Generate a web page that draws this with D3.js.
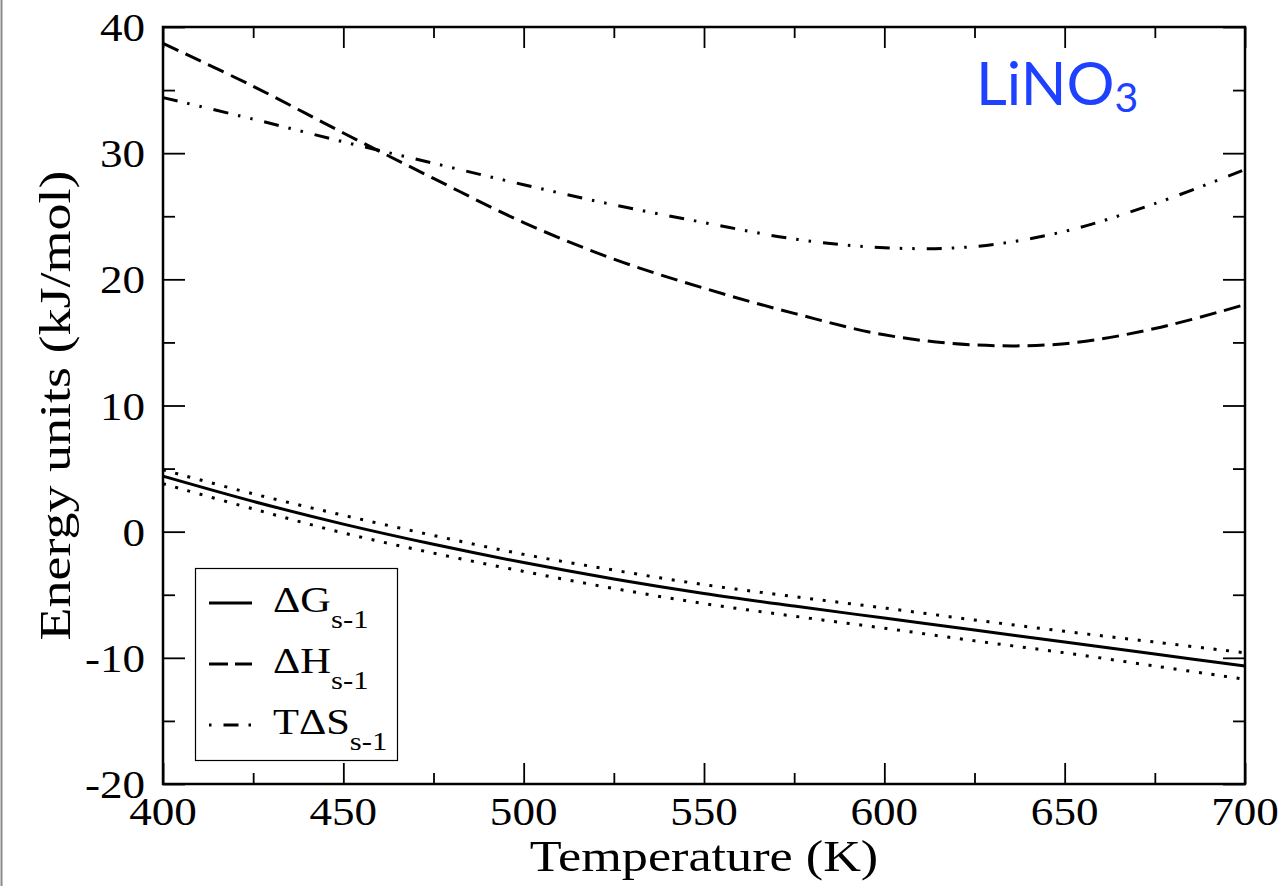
<!DOCTYPE html>
<meta charset="utf-8">
<html>
<head>
<!-- Load d3.js -->
<script src="https://d3js.org/d3.v7.min.js"></script>
<style>
  body { margin: 0; background: #fff; }
</style>
</head>
<body>

<div id="my_dataviz"></div>

<script>

// temperatures (K) and energies (kJ/mol)
var temps = [400, 425, 450, 475, 500, 525, 550, 575, 600, 625, 650, 675, 700];
var dG    = [4.4, 2.4, 0.6, -1.0, -2.45, -3.75, -4.9, -5.9, -6.85, -7.8, -8.75, -9.7, -10.65];
var dGup  = [4.9, 3.0, 1.3, -0.3, -1.8, -3.05, -4.2, -5.15, -6.05, -7.0, -7.9, -8.75, -9.6];
var dGlo  = [3.8, 1.8, -0.1, -1.7, -3.15, -4.5, -5.7, -6.7, -7.65, -8.65, -9.6, -10.65, -11.7];
var dH    = [38.7, 35.3, 31.6, 28.0, 24.5, 21.6, 19.3, 17.3, 15.6, 14.8, 14.9, 16.1, 18.0];
var TdS   = [34.4, 32.7, 30.9, 29.2, 27.5, 25.9, 24.5, 23.2, 22.5, 22.6, 23.8, 26.0, 28.7];

var xTicks = [400, 450, 500, 550, 600, 650, 700];
var xMinor = [425, 475, 525, 575, 625, 675];
var yTicks = [-20, -10, 0, 10, 20, 30, 40];
var yMinor = [-15, -5, 5, 15, 25, 35];

var legendNames = ["\u0394G", "\u0394H", "T\u0394S"];
var legendSub = "s-1";

var W = 1283, H = 886;
var margin = {top: 27, right: 38, bottom: 102, left: 163};

var serif = "'Liberation Serif', 'Times New Roman', serif";

var svg = d3.select("#my_dataviz")
  .append("svg")
    .attr("width", W)
    .attr("height", H);

svg.append("rect").attr("width", W).attr("height", H).attr("fill", "#fff");

// grey edge on the far left of the picture
svg.append("line")
  .attr("x1", 1.5).attr("x2", 1.5).attr("y1", 0).attr("y2", H)
  .attr("stroke", "#8a8a8a").attr("stroke-width", 2);

var x = d3.scaleLinear().domain([400, 700]).range([margin.left, W - margin.right]);
var y = d3.scaleLinear().domain([-20, 40]).range([H - margin.bottom, margin.top]);

var x0 = x.range()[0], x1 = x.range()[1], y0 = y.range()[0], y1 = y.range()[1];

// ticks on all four sides, pointing inward
function ticks(axisFn, vals, size, tx, ty) {
  svg.append("g")
    .attr("transform", "translate(" + tx + "," + ty + ")")
    .call(axisFn.tickValues(vals).tickSizeInner(size).tickSizeOuter(0).tickFormat(""))
    .call(function(g) { g.select(".domain").remove(); })
    .selectAll("line").attr("stroke", "#000").attr("stroke-width", 1.8);
}
ticks(d3.axisBottom(x), xTicks, -21, 0, y0);
ticks(d3.axisBottom(x), xMinor, -11, 0, y0);
ticks(d3.axisTop(x), xTicks, -21, 0, y1);
ticks(d3.axisTop(x), xMinor, -11, 0, y1);
ticks(d3.axisLeft(y), yTicks, -22, x0, 0);
ticks(d3.axisLeft(y), yMinor, -12, x0, 0);
ticks(d3.axisRight(y), yTicks, -22, x1, 0);
ticks(d3.axisRight(y), yMinor, -12, x1, 0);

// frame
svg.append("rect")
  .attr("x", x0).attr("y", y1)
  .attr("width", x1 - x0).attr("height", y0 - y1)
  .attr("fill", "none").attr("stroke", "#000").attr("stroke-width", 2.5);

// text helper, with a horizontal stretch like the original
function label(str, tx, ty, size, anchor, sx, rot) {
  var t = svg.append("text")
    .attr("transform", "translate(" + tx + "," + ty + ")" + (rot ? " rotate(" + rot + ")" : "") + " scale(" + sx + ",1)")
    .attr("font-family", serif)
    .attr("font-size", size)
    .attr("text-anchor", anchor)
    .attr("fill", "#000")
    .text(str);
  return t;
}

xTicks.forEach(function(v) { label(v, x(v), 825, 41, "middle", 1.1); });
yTicks.forEach(function(v) { label(v, 145, y(v) + 14, 41, "end", 1.1); });

label("Temperature (K)", (x0 + x1) / 2, 871, 45, "middle", 1.16);
label("Energy units (kJ/mol)", 70, (y0 + y1) / 2, 45, "middle", 1.2, -90);

// curves
var styles = [
  {data: dG,   dash: null,                         w: 3},
  {data: dGup, dash: "3,9.7",                      w: 3},
  {data: dGlo, dash: "3,9.7",                      w: 3},
  {data: dH,   dash: "17,8",                       w: 3},
  {data: TdS,  dash: "15,10,2.5,10,2.5,12",        w: 3}
];

var line = d3.line()
  .x(function(d) { return x(d[0]); })
  .y(function(d) { return y(d[1]); })
  .curve(d3.curveCatmullRom.alpha(0.5));

styles.forEach(function(s) {
  svg.append("path")
    .datum(temps.map(function(t, i) { return [t, s.data[i]]; }))
    .attr("d", line)
    .attr("fill", "none")
    .attr("stroke", "#000")
    .attr("stroke-width", s.w)
    .attr("stroke-dasharray", s.dash);
});

// legend
var lg = svg.append("g");
lg.append("rect")
  .attr("x", 195.5).attr("y", 568.5).attr("width", 202).attr("height", 192)
  .attr("fill", "#fff").attr("stroke", "#000").attr("stroke-width", 1.2);

var legendDash = [null, "19,7", "15,10,2.5,10,2.5,12"];
var legendOffset = [0, 0, 37.5];
legendNames.forEach(function(name, i) {
  var ly = 603 + i * 61;
  lg.append("line")
    .attr("x1", 209).attr("x2", 252).attr("y1", ly).attr("y2", ly)
    .attr("stroke", "#000").attr("stroke-width", 3)
    .attr("stroke-dasharray", legendDash[i])
    .attr("stroke-dashoffset", legendOffset[i]);
  var t = label("", 273, ly + 9, 36, "start", 1.18);
  t.append("tspan").text(name);
  t.append("tspan").attr("font-size", 26).attr("dy", 16).text(legendSub);
});

// compound name
var c = svg.append("text")
  .attr("x", 976).attr("y", 105)
  .attr("font-family", "Lato, 'Open Sans', sans-serif")
  .attr("font-size", 60)
  .attr("fill", "#1e40ff");
c.append("tspan").text("LiNO");
c.append("tspan").attr("font-size", 41).attr("dy", 7).text("3");

</script>
</body>
</html>
